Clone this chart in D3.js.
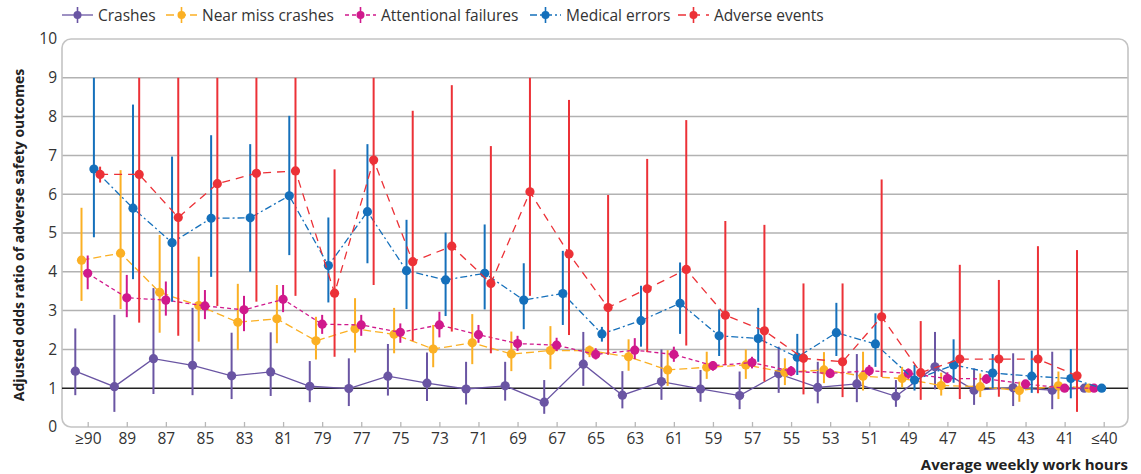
<!DOCTYPE html>
<html>
<head>
<meta charset="utf-8">
<script src="https://cdn.jsdelivr.net/npm/d3@7"></script>
<style>
  html, body { margin: 0; padding: 0; background: #fff; }
  svg { display: block; font-family: "Open Sans", "Noto Sans", sans-serif; }
</style>
</head>
<body>
<svg id="chart" width="1141" height="474"></svg>
<script>
// ---------- data ----------
const categories = ["≥90","89","87","85","83","81","79","77","75","73","71","69","67","65","63","61","59","57","55","53","51","49","47","45","43","41","≤40"];
const yTicks = [0,1,2,3,4,5,6,7,8,9,10];
const seriesNames = ["Crashes","Near miss crashes","Attentional failures","Medical errors","Adverse events"];

const crashes   = [1.44,1.04,1.76,1.59,1.32,1.42,1.05,0.99,1.31,1.13,0.98,1.06,0.64,1.62,0.82,1.17,0.98,0.81,1.37,1.02,1.11,0.79,1.55,0.95,1.01,0.95,1.00];
const crashesLo = [0.82,0.39,0.85,0.82,0.72,0.80,0.64,0.54,0.81,0.67,0.58,0.68,0.34,1.06,0.48,0.70,0.65,0.46,0.88,0.61,0.64,0.52,0.97,0.57,0.54,0.46,null];
const crashesHi = [2.54,2.89,3.58,3.07,2.43,2.44,1.70,1.77,2.14,1.92,1.68,1.68,1.21,2.45,1.44,2.00,1.47,1.43,2.07,1.68,1.88,1.21,2.45,1.51,1.90,1.94,null];

const nearMiss   = [4.30,4.48,3.47,3.13,2.70,2.79,2.22,2.53,2.39,2.01,2.17,1.88,1.97,1.97,1.81,1.47,1.54,1.60,1.41,1.47,1.31,1.25,1.07,1.04,0.94,1.06,1.00];
const nearMissLo = [3.25,3.04,2.43,2.20,1.98,2.16,1.74,1.92,1.90,1.54,1.62,1.44,1.49,1.80,1.45,1.06,1.24,1.24,1.08,1.13,0.94,1.02,0.81,0.77,0.65,0.72,null];
const nearMissHi = [5.65,6.62,4.95,4.39,3.69,3.66,2.84,3.32,3.07,2.63,2.91,2.46,2.60,2.10,2.26,1.98,1.94,2.00,1.77,1.93,1.94,1.55,1.40,1.38,1.17,1.43,null];

const attentional   = [3.96,3.33,3.27,3.12,3.02,3.29,2.65,2.63,2.44,2.63,2.38,2.15,2.11,1.87,1.98,1.87,1.58,1.66,1.44,1.38,1.45,1.38,1.25,1.24,1.11,1.00,1.00];
const attentionalLo = [3.55,2.83,2.87,2.78,2.47,2.96,2.40,2.35,2.17,2.31,2.17,1.96,1.96,1.74,1.75,1.68,1.45,1.51,1.31,1.26,1.31,1.24,1.13,1.11,1.00,0.92,null];
const attentionalHi = [4.42,3.92,3.75,3.53,3.38,3.66,2.89,2.89,2.67,2.97,2.63,2.35,2.30,2.03,2.29,2.07,1.70,1.81,1.57,1.51,1.60,1.51,1.41,1.36,1.21,1.08,null];

const medical   = [6.65,5.64,4.75,5.38,5.39,5.96,4.16,5.55,4.03,3.79,3.96,3.27,3.44,2.40,2.74,3.19,2.35,2.28,1.80,2.43,2.14,1.21,1.60,1.39,1.31,1.25,1.00];
const medicalLo = [4.89,3.81,3.23,3.87,4.00,4.43,3.21,4.22,3.04,2.86,3.03,2.52,2.63,2.20,2.07,2.40,1.83,1.68,1.34,1.83,1.55,0.94,1.14,1.00,0.88,0.74,null];
const medicalHi = [9.00,8.31,6.97,7.52,7.29,8.02,5.40,7.29,5.34,5.01,5.22,4.22,4.54,2.58,3.64,4.24,3.03,3.07,2.40,3.20,2.93,1.60,2.26,1.88,1.97,2.01,null];

const adverse   = [6.51,6.51,5.40,6.27,6.54,6.60,3.45,6.88,4.26,4.66,3.70,6.06,4.46,3.08,3.56,4.06,2.88,2.48,1.77,1.68,2.84,1.40,1.75,1.75,1.75,1.32,null];
const adverseLo = [6.30,2.69,2.35,3.12,3.23,3.38,1.81,3.66,2.22,2.46,1.90,3.38,2.37,1.86,1.93,2.10,1.60,1.17,0.84,0.77,1.29,0.70,0.72,0.78,0.87,0.39,null];
const adverseHi = [6.71,9.00,9.00,9.00,9.00,9.00,6.64,9.00,8.15,8.81,7.24,9.00,8.43,5.98,6.91,7.91,5.31,5.21,3.70,3.70,6.38,2.73,4.18,3.79,4.66,4.56,null];

// ---------- styles / layout ----------
const colors = ["#6a55a3","#fbb024","#d0198c","#1570bb","#ec3137"];
const dashes = [null, "8,4", "4,3", "7,3,2,3", "8,6"];
const offsets = [-12.4,-6.2,0,6.2,12.4];
const refOffsets = [-19.4,-14.7,-9.7,-2,0];
const legendX = [62,166,345,530,678];

const values = [crashes, nearMiss, attentional, medical, adverse];
const lows   = [crashesLo, nearMissLo, attentionalLo, medicalLo, adverseLo];
const highs  = [crashesHi, nearMissHi, attentionalHi, medicalHi, adverseHi];

const L = 62, R = 1128, T = 39, B = 427;
const svg = d3.select("#chart");

const x = d3.scalePoint().domain(categories).range([87.7, 1103.7]);
const y = d3.scaleLinear().domain([0,10]).range([B, T]);

// gridlines
svg.append("g").selectAll("line").data(yTicks.filter(t => t >= 2 && t <= 9)).join("line")
  .attr("x1", L).attr("x2", R).attr("y1", d => y(d)).attr("y2", d => y(d))
  .attr("stroke", "#b2b2b2").attr("stroke-width", 1.5);

// frame
svg.append("rect").attr("x", L).attr("y", T).attr("width", R - L).attr("height", B - T)
  .attr("rx", 9).attr("ry", 9).attr("fill", "none").attr("stroke", "#c4c4c4").attr("stroke-width", 1.6);

// reference line at 1
svg.append("line").attr("x1", L).attr("x2", R).attr("y1", y(1)).attr("y2", y(1))
  .attr("stroke", "#222").attr("stroke-width", 1.4);

// y axis
const yAxis = svg.append("g").attr("transform", `translate(${L},0)`)
  .call(d3.axisLeft(y).tickValues(yTicks).tickSize(0).tickPadding(5));
yAxis.select(".domain").remove();
yAxis.selectAll("text").attr("font-size", 15.5).attr("fill", "#333").attr("font-family", "Open Sans");

// x axis
const xAxis = svg.append("g").attr("transform", `translate(0,${B})`)
  .call(d3.axisBottom(x).tickSizeInner(-5).tickSizeOuter(0).tickPadding(6));
xAxis.select(".domain").remove();
xAxis.selectAll(".tick line").attr("stroke", "#b8b8b8").attr("stroke-width", 1.3);
xAxis.selectAll("text").attr("font-size", 15.5).attr("fill", "#333").attr("font-family", "Open Sans");

// series
function px(i, s) {
  const c = categories[i];
  return x(c) + (i === categories.length - 1 ? refOffsets[s] : offsets[s]);
}

values.forEach((vals, s) => {
  const pts = vals.map((v, i) => ({i, v, lo: lows[s][i], hi: highs[s][i]}));
  const g = svg.append("g");
  const line = d3.line().defined(d => d.v != null).x(d => px(d.i, s)).y(d => y(d.v));
  g.append("path").datum(pts).attr("d", line).attr("fill", "none")
    .attr("stroke", colors[s]).attr("stroke-width", 1.3)
    .attr("stroke-dasharray", dashes[s]);
  g.selectAll("line.err").data(pts.filter(d => d.lo != null && d.hi != null)).join("line")
    .attr("class", "err")
    .attr("x1", d => px(d.i, s)).attr("x2", d => px(d.i, s))
    .attr("y1", d => y(d.lo)).attr("y2", d => y(d.hi))
    .attr("stroke", colors[s]).attr("stroke-width", 2);
  g.selectAll("circle").data(pts.filter(d => d.v != null)).join("circle")
    .attr("cx", d => px(d.i, s)).attr("cy", d => y(d.v)).attr("r", 4.6)
    .attr("fill", colors[s]);
});

// legend
const lg = svg.append("g");
seriesNames.forEach((name, s) => {
  const x0 = legendX[s], cy = 15;
  lg.append("line").attr("x1", x0).attr("x2", x0 + 31).attr("y1", cy).attr("y2", cy)
    .attr("stroke", colors[s]).attr("stroke-width", 1.3).attr("stroke-dasharray", dashes[s]);
  lg.append("line").attr("x1", x0 + 15.5).attr("x2", x0 + 15.5).attr("y1", cy - 8).attr("y2", cy + 8)
    .attr("stroke", colors[s]).attr("stroke-width", 1.6);
  lg.append("circle").attr("cx", x0 + 15.5).attr("cy", cy).attr("r", 4).attr("fill", colors[s]);
  lg.append("text").attr("x", x0 + 36).attr("y", cy + 5.5).text(name)
    .attr("font-size", 15.5).attr("fill", "#333");
});

// axis titles
svg.append("text").attr("transform", `translate(24,${(T + B) / 2 + 2}) rotate(-90)`)
  .attr("text-anchor", "middle").attr("font-weight", "bold").attr("font-size", 14).attr("fill", "#222")
  .text("Adjusted odds ratio of adverse safety outcomes");
svg.append("text").attr("x", R).attr("y", 470).attr("text-anchor", "end")
  .attr("font-weight", "bold").attr("font-size", 15).attr("fill", "#222")
  .text("Average weekly work hours");
</script>
</body>
</html>
